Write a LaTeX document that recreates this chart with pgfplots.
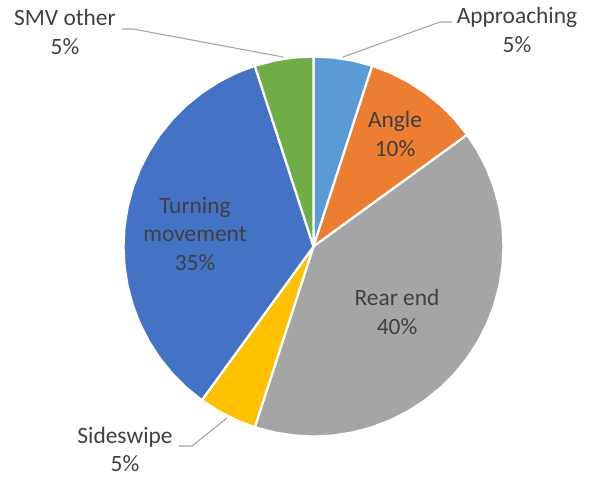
\documentclass[border=0pt]{standalone}
\usepackage{fontspec}
\setmainfont{Carlito}
\usepackage{pgfplots}
\pgfplotsset{compat=1.18}
\usepgfplotslibrary{polar}

\definecolor{cApp}{HTML}{5B9BD5}
\definecolor{cAng}{HTML}{ED7D31}
\definecolor{cRear}{HTML}{A5A5A5}
\definecolor{cSide}{HTML}{FFC000}
\definecolor{cTurn}{HTML}{4472C4}
\definecolor{cSmv}{HTML}{70AD47}
\definecolor{txt}{HTML}{404040}
\definecolor{lead}{HTML}{A6A6A6}

\begin{document}
\begin{tikzpicture}[x=1bp,y=1bp]
\useasboundingbox (-313.5,-231.5) rectangle (278.5,246.5);
\begin{polaraxis}[
    at={(0,0)}, anchor=center,
    scale only axis, width=380bp, height=380bp,
    ymin=0, ymax=190,
    hide axis, clip=false,
    every axis plot/.append style={draw=white, line width=2.2bp, line join=round},
]
% Approaching 5%
\addplot[fill=cApp] coordinates {(0,0) (90,190) (84,190) (78,190) (72,190)} -- cycle;
% Angle 10%
\addplot[fill=cAng] coordinates {(0,0) (72,190) (66,190) (60,190) (54,190) (48,190) (42,190) (36,190)} -- cycle;
% Rear end 40%
\addplot[fill=cRear] coordinates {(0,0) (36,190) (30,190) (24,190) (18,190) (12,190) (6,190) (0,190)
  (354,190) (348,190) (342,190) (336,190) (330,190) (324,190) (318,190) (312,190) (306,190)
  (300,190) (294,190) (288,190) (282,190) (276,190) (270,190) (264,190) (258,190) (252,190)} -- cycle;
% Sideswipe 5%
\addplot[fill=cSide] coordinates {(0,0) (252,190) (246,190) (240,190) (234,190)} -- cycle;
% Turning movement 35%
\addplot[fill=cTurn] coordinates {(0,0) (234,190) (228,190) (222,190) (216,190) (210,190) (204,190)
  (198,190) (192,190) (186,190) (180,190) (174,190) (168,190) (162,190) (156,190) (150,190)
  (144,190) (138,190) (132,190) (126,190) (120,190) (114,190) (108,190)} -- cycle;
% SMV other 5%
\addplot[fill=cSmv] coordinates {(0,0) (108,190) (102,190) (96,190) (90,190)} -- cycle;
\end{polaraxis}

% leader lines
\draw[lead, line width=1.1bp] (-191.5,217.5) -- (-180.5,217.5) -- (-30.5,189.5);
\draw[lead, line width=1.1bp] (29.5,189.5) -- (126.5,224.5) -- (138.5,224.5);
\draw[lead, line width=1.1bp] (-134.5,-199.5) -- (-121.5,-199.5) -- (-86.5,-171.5);

% labels
\tikzset{lbl/.style={text=txt, align=center, inner sep=0pt,
  font=\fontsize{23.5}{28.5}\selectfont}}
\node[lbl] at (203.5,216.5) {Approaching\\5\%};
\node[lbl] at (-248.5,214.5) {SMV other\\5\%};
\node[lbl] at (-188.5,-203) {Sideswipe\\5\%};
\node[lbl] at (81.5,112.5) {Angle\\10\%};
\node[lbl] at (-118.5,12.5) {Turning\\movement\\35\%};
\node[lbl] at (83.5,-65.5) {Rear end\\40\%};
\end{tikzpicture}
\end{document}
